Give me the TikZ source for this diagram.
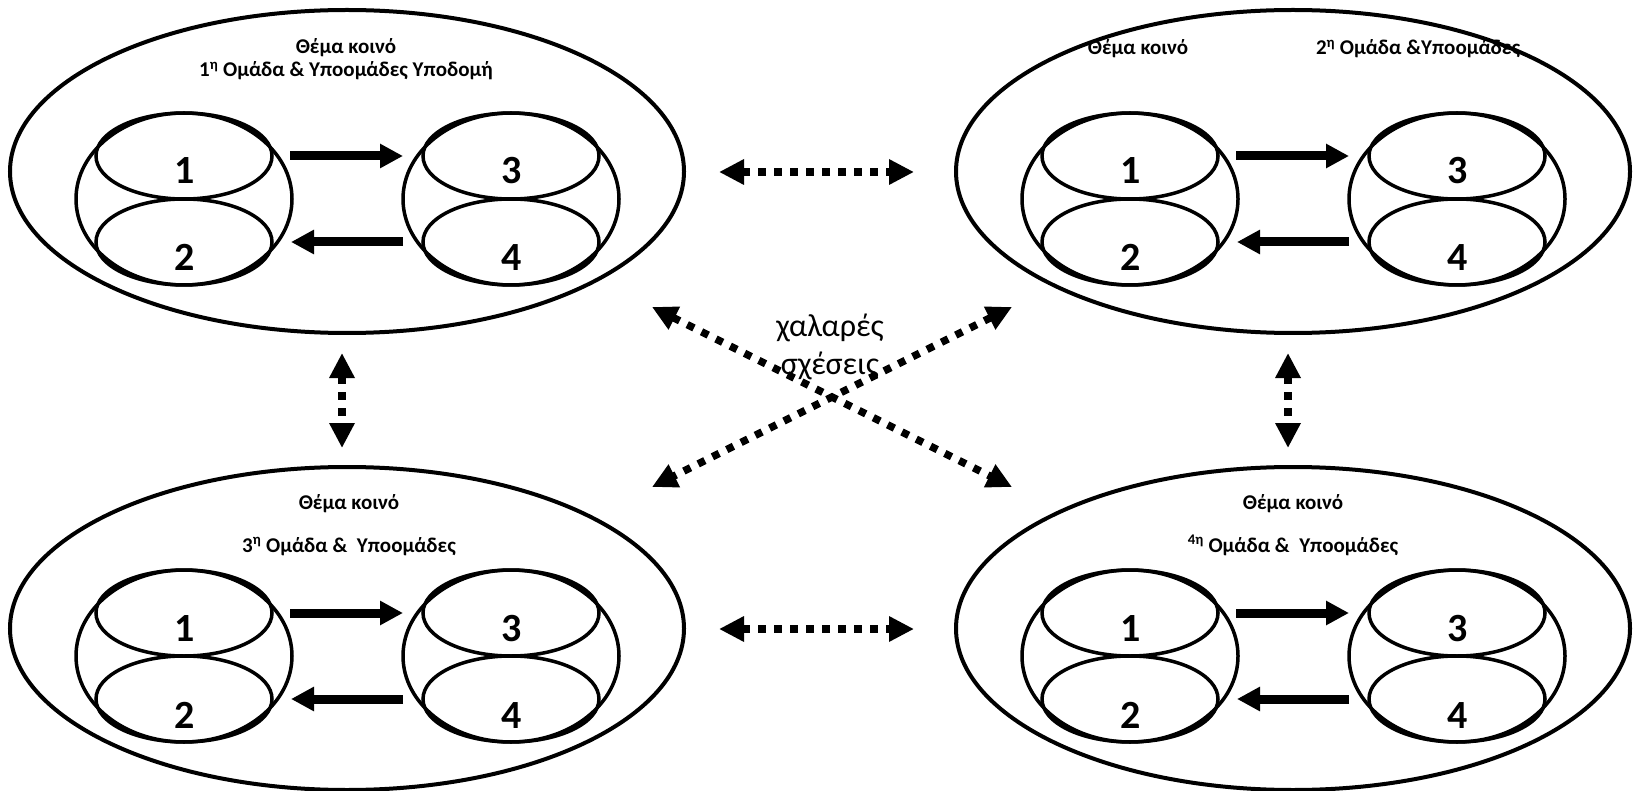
\documentclass[tikz,border=0pt]{standalone}
\usepackage{fontspec}
\setmainfont{Carlito}
\usetikzlibrary{shapes.geometric,arrows.meta}
\newcommand\groupset[1]{%
  \node[grp] (#1L) at (184,199) {};
  \node[sub] (#1a) at (184,156) {};
  \node[sub] (#1b) at (184,242) {};
  \node[grp] (#1R) at (511,199) {};
  \node[sub] (#1c) at (511,156) {};
  \node[sub] (#1d) at (511,242) {};
  \node[digit] (#1n1) at (185,184) {1};
  \node[digit] (#1n2) at (185,271) {2};
  \node[digit] (#1n3) at (512,184) {3};
  \node[digit] (#1n4) at (512,271) {4};
  \draw[blockarrow] ([xshift=-2pt]#1L.east |- #1a.center) -- (#1R.west |- #1a.center);
  \draw[blockarrow] (#1R.west |- #1b.center) -- ([xshift=-1pt]#1L.east |- #1b.center);
}
\begin{document}
\begin{tikzpicture}[x=1pt,y=-1pt,
  bigell/.style={draw, ellipse, line width=4pt, minimum width=674pt, minimum height=323pt, inner sep=0pt, outer sep=0pt},
  grp/.style={draw, ellipse, line width=3.5pt, minimum width=216pt, minimum height=172pt, inner sep=0pt, outer sep=0pt},
  sub/.style={draw, ellipse, line width=3.5pt, minimum width=176pt, minimum height=86pt, inner sep=0pt, outer sep=0pt},
  digit/.style={anchor=base, inner sep=0pt, font=\bfseries\fontsize{40}{44}\selectfont},
  title/.style={anchor=base, inner sep=0pt, font=\bfseries\fontsize{21}{25}\selectfont},
  blockarrow/.style={line width=9pt, -{Triangle[length=23pt,width=23pt]}},
  loose/.style={line width=7.5pt, dash pattern=on 7.5pt off 8.5pt, {Triangle[length=25pt,width=24pt]}-{Triangle[length=25pt,width=24pt]}},
  note/.style={anchor=base, inner sep=0pt, font=\fontsize{32}{38}\selectfont}
]
\useasboundingbox (0,0) rectangle (1635,791);

% big ellipses
\node[bigell] (TL) at (347,171.5) {};
\node[bigell] (TR) at (1293,171.5) {};
\node[bigell] (BL) at (347,628.5) {};
\node[bigell] (BR) at (1293,628.5) {};

% inner groups
\groupset{tl}
\begin{scope}[shift={(946,0)}]\groupset{tr}\end{scope}
\begin{scope}[shift={(0,457)}]\groupset{bl}\end{scope}
\begin{scope}[shift={(946,457)}]\groupset{br}\end{scope}

% titles
\node[title] (tlt1) at (346,54) {Θέμα κοινό};
\node[title] (tlt2) at (346,77) {1\textsuperscript{η} Ομάδα \& Υποομάδες Υποδομή};
\node[title] (trt1) at (1138,55) {Θέμα κοινό};
\node[title] (trt2) at (1418,55) {2\textsuperscript{η} Ομάδα \&Υποομάδες};
\node[title] (blt1) at (349,509) {Θέμα κοινό};
\node[title] (blt2) at (349,552) {3\textsuperscript{η} Ομάδα \&~ Υποομάδες};
\node[title] (brt1) at (1293,509) {Θέμα κοινό};
\node[title] (brt2) at (1293,552) {\textsuperscript{4η} Ομάδα \&~ Υποομάδες};

% loose relation connectors
\coordinate (h1a) at (719,172);  \coordinate (h1b) at (914,172);
\coordinate (h2a) at (719,629);  \coordinate (h2b) at (914,629);
\coordinate (v1a) at (342,353);  \coordinate (v1b) at (342,448);
\coordinate (v2a) at (1288,353); \coordinate (v2b) at (1288,448);
\coordinate (d1a) at (652,307);  \coordinate (d1b) at (1012,487);
\coordinate (d2a) at (1012,307); \coordinate (d2b) at (652,487);
\draw[loose] (h1a) -- (h1b);
\draw[loose] (h2a) -- (h2b);
\draw[loose] (v1a) -- (v1b);
\draw[loose] (v2a) -- (v2b);
\draw[loose] (d1a) -- (d1b);
\draw[loose] (d2a) -- (d2b);

\node[note] (n1) at (830,337) {χαλαρές};
\node[note] (n2) at (830,374) {σχέσεις};
\end{tikzpicture}
\end{document}
